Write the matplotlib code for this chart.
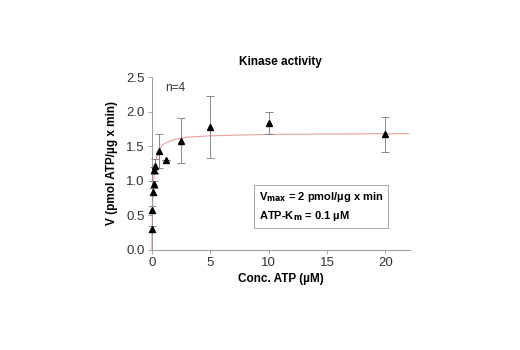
import matplotlib
matplotlib.use('Agg')
import matplotlib.pyplot as plt

# measured points (conc uM, V, error)
conc = [0.02, 0.05, 0.1, 0.15, 0.2, 0.3, 0.625, 1.25, 2.5, 5, 10, 20]
v_mean = [0.30, 0.58, 0.84, 0.95, 1.15, 1.21, 1.43, 1.30, 1.58, 1.78, 1.83, 1.67]
v_err = [0.04, 0.05, 0.05, 0.05, 0.05, 0.10, 0.24, 0.0, 0.33, 0.45, 0.16, 0.25]

# fitted curve
fit_x = [0, 0.02, 0.05, 0.1, 0.2, 0.3, 0.5, 0.75, 1, 1.5, 2, 3, 5, 10, 20, 22]
fit_y = [0, 0.28, 0.56, 0.84, 1.12, 1.26, 1.40, 1.48, 1.53, 1.57, 1.60, 1.63, 1.65, 1.67, 1.68, 1.68]

x_ticks = [0, 5, 10, 15, 20]
y_ticks = [0.0, 0.5, 1.0, 1.5, 2.0, 2.5]

plt.rcParams['font.family'] = ['Liberation Sans', 'DejaVu Sans']

fig = plt.figure(figsize=(5.2, 3.5), dpi=100)
ax = fig.add_axes([0.292, 0.286, 0.496, 0.494])

ax.plot(fit_x, fit_y, color='#e8a0a0', lw=0.8, zorder=1, clip_on=False)
ax.errorbar(conc, v_mean, yerr=v_err, fmt='none', ecolor='#777777',
            elinewidth=0.6, capsize=3, capthick=0.6, zorder=2, clip_on=False)
ax.plot(conc, v_mean, '^', color='black', ms=5, zorder=3, clip_on=False)

ax.set_xlim(0, 22.1)
ax.set_ylim(0, 2.5)
ax.set_xticks(x_ticks)
ax.set_yticks(y_ticks)
ax.set_yticklabels(['%.1f' % t for t in y_ticks])

for s in ['top', 'right']:
    ax.spines[s].set_visible(False)
for s in ['left', 'bottom']:
    ax.spines[s].set_color('#999999')
    ax.spines[s].set_linewidth(0.7)
ax.tick_params(direction='out', length=3, width=0.6, color='#999999',
               labelsize=9.5, labelcolor='#333333', pad=2)

ax.set_xlabel('Conc. ATP (µM)', fontsize=8.5, fontweight='bold', labelpad=3)
ax.set_ylabel('V (pmol ATP/µg x min)', fontsize=8.5, fontweight='bold', labelpad=6)
ax.set_title('Kinase activity', fontsize=8.5, fontweight='bold', pad=9)

ax.text(0.05, 0.92, 'n=4', transform=ax.transAxes, fontsize=8.5, color='#333333')
ax.text(0.415, 0.25, r'V$_{\mathbf{max}}$ = 2 pmol/µg x min' + '\n' + r'ATP-K$_{\mathbf{m}}$ = 0.1 µM',
        transform=ax.transAxes, fontsize=8, fontweight='bold',
        linespacing=1.5, va='center',
        bbox=dict(boxstyle='square,pad=0.45', fc='white', ec='#999999', lw=0.6))

fig.savefig('out.png', dpi=100)
